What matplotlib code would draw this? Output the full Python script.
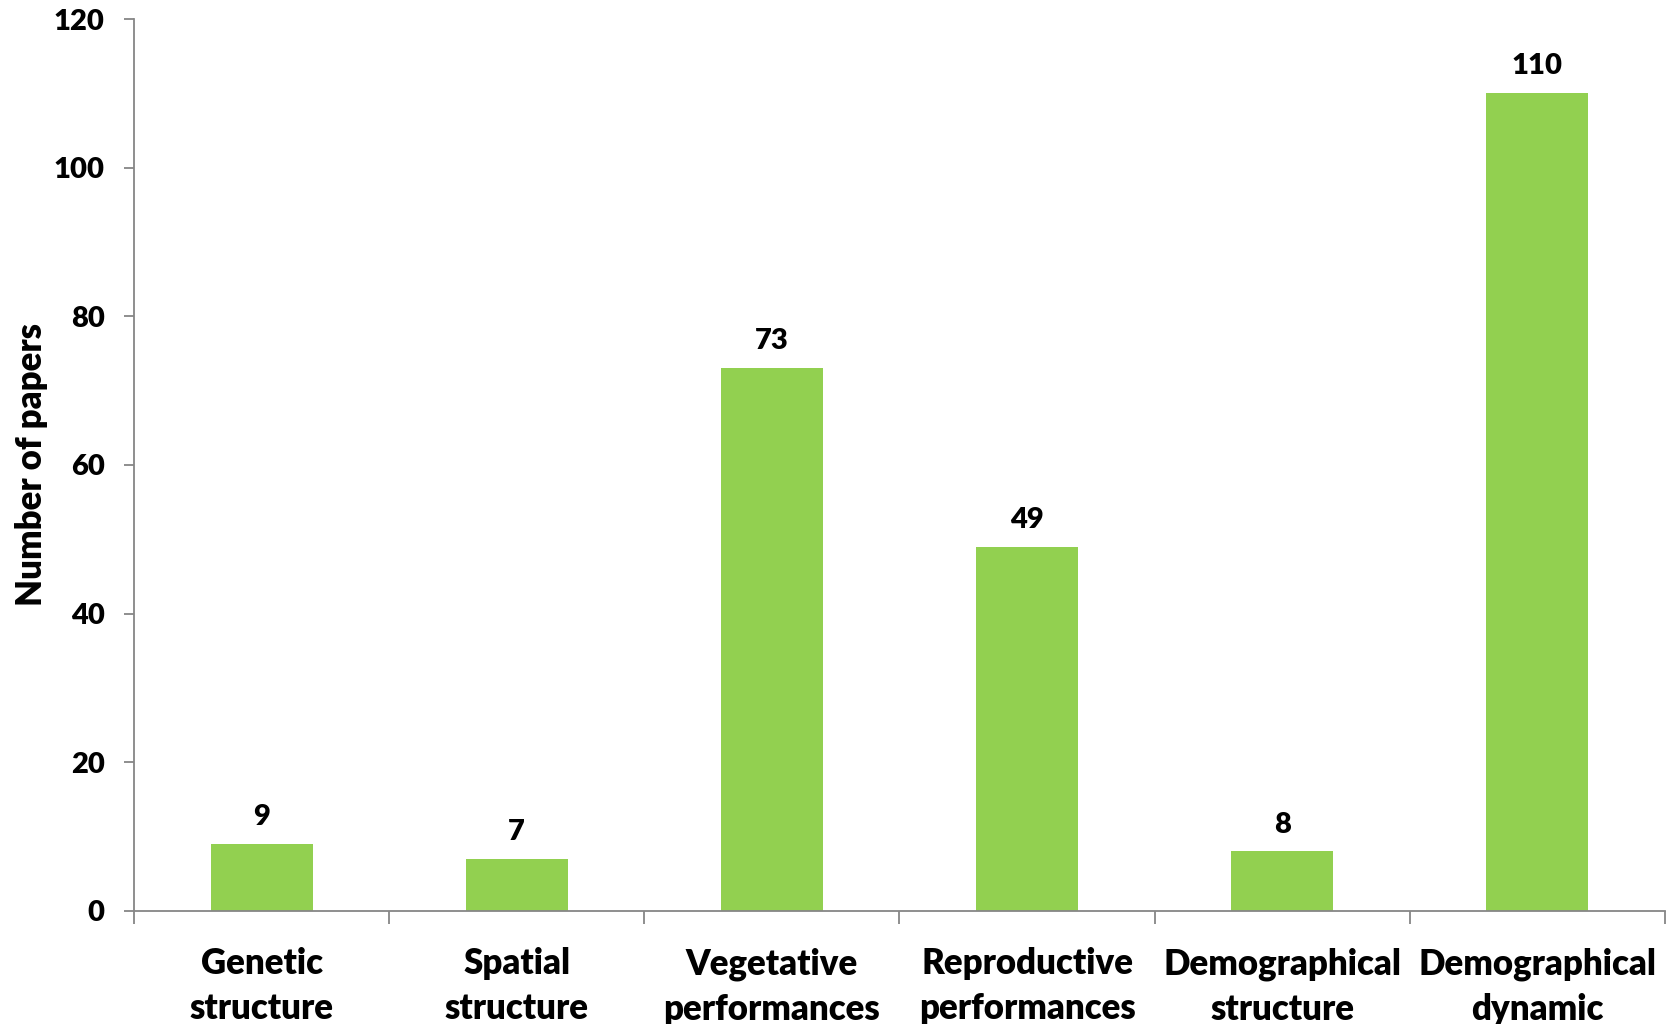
import numpy as np
import matplotlib
matplotlib.use('Agg')
from matplotlib import pyplot as plt

categories = ['Genetic\nstructure', 'Spatial\nstructure', 'Vegetative\nperformances',
              'Reproductive\nperformances', 'Demographical\nstructure', 'Demographical\ndynamic']
papers = [9, 7, 73, 49, 8, 110]
yticks = [0, 20, 40, 60, 80, 100, 120]

plt.rcParams['font.family'] = ['Lato', 'DejaVu Sans']

fig = plt.figure(figsize=(16.71, 10.24), dpi=100)
ax = fig.add_axes([0.0802, 0.1104, 0.9162, 0.871])

x = np.arange(len(categories))
bars = ax.bar(x, papers, width=0.4, color='#92D050', zorder=2)
ax.bar_label(bars, padding=10, fontsize=21, fontweight='heavy')

ax.set_xlim(-0.5, len(categories) - 0.5)
ax.set_ylim(0, 120)
ax.set_yticks(yticks)
ax.set_yticklabels([str(t) for t in yticks], fontsize=21, fontweight='heavy')

ax.set_xticks(x)
ax.set_xticklabels(categories, fontsize=25, fontweight='heavy', linespacing=1.45)
ax.tick_params(axis='x', which='major', length=0, pad=26)
ax.set_xticks(np.arange(len(categories) + 1) - 0.5, minor=True)
ax.tick_params(axis='x', which='minor', length=9, width=1.3, color='#868686')
ax.tick_params(axis='y', length=7, width=1.3, color='#868686', pad=14)

for side in ['top', 'right']:
    ax.spines[side].set_visible(False)
for side in ['left', 'bottom']:
    ax.spines[side].set_color('#868686')
    ax.spines[side].set_linewidth(1.3)

ax.set_ylabel('Number of papers', fontsize=25, fontweight='heavy', labelpad=4)

fig.savefig('out.png', dpi=100)
